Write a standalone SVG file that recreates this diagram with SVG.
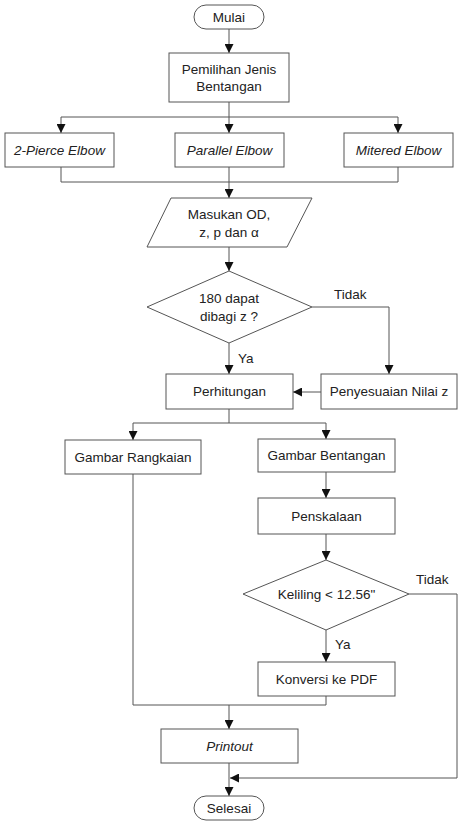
<svg xmlns="http://www.w3.org/2000/svg" width="460" height="824" viewBox="0 0 460 824">
<style>
.n{fill:#fff;stroke:#555;stroke-width:1}
.c{fill:none;stroke:#555;stroke-width:1}
text{font-family:"Liberation Sans",Arial,sans-serif;font-size:13.5px;fill:#222}
.m{text-anchor:middle}
.i{font-style:italic}
</style>
<defs>
<marker id="a" viewBox="0 0 10 10" refX="10" refY="5" markerWidth="9" markerHeight="9" markerUnits="userSpaceOnUse" orient="auto">
<path d="M0,0 L10,5 L0,10 z" fill="#111"/>
</marker>
</defs>
<rect width="460" height="824" fill="#fff"/>
<g id="connectors">
<path class="c" d="M229,29 V53" marker-end="url(#a)"/>
<path class="c" d="M229,102 V117"/>
<path class="c" d="M61,117 H398"/>
<path class="c" d="M61,117 V133" marker-end="url(#a)"/>
<path class="c" d="M229,117 V133" marker-end="url(#a)"/>
<path class="c" d="M398,117 V133" marker-end="url(#a)"/>
<path class="c" d="M61,167 V182 H398 V167"/>
<path class="c" d="M229,167 V198" marker-end="url(#a)"/>
<path class="c" d="M229,247 V271" marker-end="url(#a)"/>
<path class="c" d="M312,307 H389 V374" marker-end="url(#a)"/>
<path class="c" d="M229,343 V374" marker-end="url(#a)"/>
<path class="c" d="M321,392 H293" marker-end="url(#a)"/>
<path class="c" d="M229,409 V423"/>
<path class="c" d="M133,423 H326"/>
<path class="c" d="M133,423 V440" marker-end="url(#a)"/>
<path class="c" d="M326,423 V439" marker-end="url(#a)"/>
<path class="c" d="M326,472 V498" marker-end="url(#a)"/>
<path class="c" d="M326,534 V560" marker-end="url(#a)"/>
<path class="c" d="M326,630 V662" marker-end="url(#a)"/>
<path class="c" d="M133,474 V705 H326 V696"/>
<path class="c" d="M229,705 V729" marker-end="url(#a)"/>
<path class="c" d="M229,763 V796" marker-end="url(#a)"/>
<path class="c" d="M409,594 H457 V778 H230" marker-end="url(#a)"/>
<text x="334" y="298.5">Tidak</text>
<text x="238" y="362.5">Ya</text>
<text x="416" y="583.5">Tidak</text>
<text x="335" y="648.5">Ya</text>
</g>
<g id="mulai"><rect class="n" x="194" y="5" width="70" height="24" rx="12"/><text class="m" x="229" y="21.5">Mulai</text></g>
<g id="pemilihan"><rect class="n" x="169" y="53" width="120" height="49"/><text class="m" x="229" y="73.5">Pemilihan Jenis</text><text class="m" x="229" y="90.5">Bentangan</text></g>
<g id="pierce"><rect class="n" x="5" y="133" width="109" height="34"/><text class="m i" x="59.5" y="154.5">2-Pierce Elbow</text></g>
<g id="parallel"><rect class="n" x="175" y="133" width="109" height="34"/><text class="m i" x="229.5" y="154.5">Parallel Elbow</text></g>
<g id="mitered"><rect class="n" x="344" y="133" width="109" height="34"/><text class="m i" x="398.5" y="154.5">Mitered Elbow</text></g>
<g id="masukan"><polygon class="n" points="171,198 312,198 287,247 147,247"/><text class="m" x="229" y="218.5">Masukan OD,</text><text class="m" x="229" y="236.5">z, p dan α</text></g>
<g id="dec1"><polygon class="n" points="229,271 312,307 229,343 147,307"/><text class="m" x="229" y="302.5">180 dapat</text><text class="m" x="229" y="320.5">dibagi z ?</text></g>
<g id="perhitungan"><rect class="n" x="166" y="374" width="127" height="35"/><text class="m" x="229.5" y="396">Perhitungan</text></g>
<g id="penyesuaian"><rect class="n" x="321" y="374" width="136" height="35"/><text class="m" x="389" y="396">Penyesuaian Nilai z</text></g>
<g id="rangkaian"><rect class="n" x="65" y="440" width="136" height="34"/><text class="m" x="133" y="461.5">Gambar Rangkaian</text></g>
<g id="bentangan"><rect class="n" x="258" y="439" width="137" height="33"/><text class="m" x="326.5" y="460">Gambar Bentangan</text></g>
<g id="penskalaan"><rect class="n" x="258" y="498" width="137" height="36"/><text class="m" x="326.5" y="520.5">Penskalaan</text></g>
<g id="dec2"><polygon class="n" points="326,560 409,594 326,630 243,594"/><text class="m" x="326.5" y="598.5">Keliling &lt; 12.56"</text></g>
<g id="konversi"><rect class="n" x="258" y="662" width="137" height="34"/><text class="m" x="326.5" y="683.5">Konversi ke PDF</text></g>
<g id="printout"><rect class="n" x="161" y="729" width="137" height="34"/><text class="m i" x="229.5" y="750.5">Printout</text></g>
<g id="selesai"><rect class="n" x="194" y="796" width="70" height="24" rx="12"/><text class="m" x="229" y="812.5">Selesai</text></g>
</svg>
